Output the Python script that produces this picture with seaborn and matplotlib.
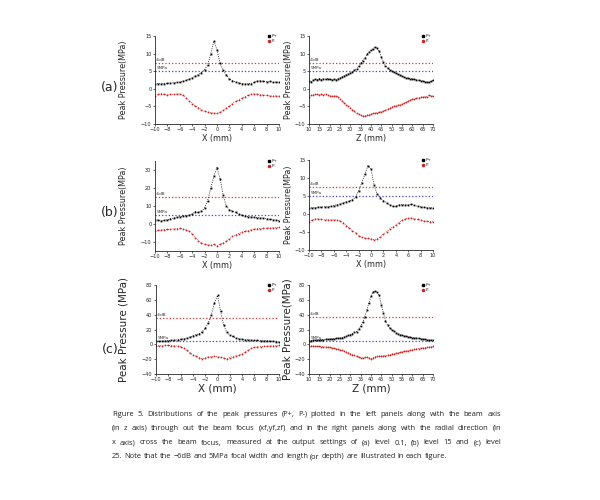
import numpy as np
import matplotlib
matplotlib.use("Agg")
import matplotlib.pyplot as plt
import seaborn as sns
from matplotlib.lines import Line2D

sns.set_style("ticks")
plt.rcParams['font.family'] = ['DejaVu Sans']

# sample positions (mm)
x_mm = np.arange(-10, 10.5, 0.5)
z_mm = np.arange(10, 71, 1)

# (a) level 0.1
a_x_pos = [1.3,1.5,1.5,1.5,1.6,1.6,1.7,1.8,1.9,2.1,2.4,2.8,3.1,3.6,4.0,4.6,5.4,6.8,10.0,13.6,11.0,
           7.3,5.3,3.8,2.9,2.3,1.9,1.7,1.5,1.4,1.4,1.5,1.8,2.2,2.3,2.1,2.0,2.1,1.8,1.9,1.8]
a_x_neg = [-2.1,-1.6,-1.4,-1.6,-1.7,-1.6,-1.6,-1.5,-1.4,-1.8,-2.6,-3.4,-4.2,-4.8,-5.4,-5.9,-6.4,-6.6,-6.8,-6.9,-7.0,
           -6.6,-6.1,-5.5,-4.9,-4.2,-3.6,-3.1,-2.6,-2.2,-1.9,-1.6,-1.4,-1.5,-1.7,-1.8,-1.9,-2.0,-2.1,-2.0,-2.1]
a_z_pos = [2.2,2.0,2.5,2.7,2.6,2.9,2.6,2.8,2.7,2.9,2.7,2.6,2.7,2.6,2.9,3.1,3.4,3.7,4.0,4.2,
           4.5,4.8,5.2,5.7,6.4,7.2,8.0,8.8,9.8,10.4,11.0,11.4,11.9,11.5,10.6,9.0,7.5,6.5,5.9,5.4,
           5.0,4.7,4.4,4.1,3.8,3.6,3.3,3.1,3.0,2.9,2.8,2.7,2.6,2.4,2.3,2.2,2.0,1.9,1.8,2.1,2.4]
a_z_neg = [-2.2,-1.9,-1.7,-1.6,-1.6,-1.7,-1.6,-1.7,-1.6,-1.8,-2.0,-2.0,-2.1,-2.0,-2.3,-2.8,-3.4,-4.0,-4.5,-4.9,
           -5.4,-5.9,-6.4,-6.9,-7.3,-7.5,-7.7,-7.6,-7.5,-7.4,-7.2,-7.0,-6.9,-6.8,-6.6,-6.5,-6.3,-6.1,-5.8,-5.5,
           -5.3,-5.0,-4.8,-4.6,-4.5,-4.3,-4.0,-3.8,-3.5,-3.2,-3.0,-2.8,-2.7,-2.5,-2.4,-2.3,-2.2,-2.2,-1.9,-2.0,-2.1]

# (b) level 15
b_l_pos = [2.4,2.1,1.9,2.0,2.4,2.9,3.3,3.7,4.1,4.4,4.7,5.0,5.4,6.9,6.4,7.0,9.0,13.0,20.0,26.5,31.3,
           25.0,16.0,10.0,8.0,7.0,6.5,5.5,4.8,4.4,4.1,3.9,3.7,3.5,3.4,3.2,2.9,2.6,2.4,2.2,1.9]
b_l_neg = [-3.8,-3.5,-3.3,-3.1,-3.0,-2.9,-2.8,-2.6,-2.4,-2.8,-3.2,-4.0,-5.3,-7.5,-9.4,-10.5,-11.3,-11.6,-11.8,-11.3,-12.2,
           -11.2,-10.5,-9.6,-8.5,-6.9,-6.0,-5.3,-4.7,-4.1,-3.7,-3.2,-2.8,-2.6,-2.5,-2.4,-2.3,-2.2,-2.1,-2.0,-1.9]
b_r_pos = [1.7,1.7,1.8,1.9,1.9,2.0,2.0,2.1,2.3,2.6,2.8,3.1,3.4,3.6,4.0,4.6,6.4,8.6,11.0,13.4,12.5,
           8.0,5.5,4.5,3.7,3.1,2.6,2.2,2.1,2.5,2.6,2.5,2.5,2.8,2.4,2.1,2.0,1.9,1.8,1.7,1.7]
b_r_neg = [-2.1,-1.7,-1.4,-1.3,-1.5,-1.6,-1.6,-1.6,-1.6,-1.7,-1.9,-2.4,-3.2,-3.9,-4.6,-5.3,-6.1,-6.5,-6.7,-6.8,-6.9,
           -7.1,-6.9,-6.3,-5.6,-4.9,-4.2,-3.6,-3.0,-2.4,-1.8,-1.4,-1.2,-1.1,-1.3,-1.5,-1.7,-1.9,-2.0,-2.1,-2.1]

# (c) level 25
c_x_pos = [3.9,4.2,4.4,4.7,4.9,5.2,5.6,6.2,6.8,7.5,8.4,10.0,11.6,13.0,14.2,17.0,21.8,29.0,40.0,56.0,66.0,
           45.0,26.0,16.0,12.8,10.6,8.6,7.6,6.9,6.3,5.9,5.6,5.3,5.2,5.0,4.9,4.8,4.5,4.0,3.5,3.0]
c_x_neg = [-2.0,-1.8,-1.6,-1.5,-1.5,-1.6,-1.8,-2.2,-3.0,-5.5,-8.0,-11.8,-14.0,-16.0,-18.0,-19.4,-18.2,-17.0,-16.5,-16.3,-16.6,
           -17.6,-18.5,-19.4,-18.0,-16.5,-15.3,-14.5,-13.0,-10.5,-8.0,-5.5,-4.0,-3.4,-3.0,-2.8,-2.5,-2.3,-2.0,-1.8,-1.5]
c_z_pos = [4.8,5.0,5.2,5.5,5.8,6.1,6.3,6.5,6.7,6.9,7.0,7.3,7.6,7.9,8.2,8.4,9.0,9.7,10.6,12.0,
           13.2,14.6,16.0,17.3,20.5,24.5,30.0,37.4,46.0,56.0,65.0,70.5,72.0,70.0,66.0,53.0,42.0,32.0,26.0,22.0,
           19.6,17.8,15.8,14.3,13.2,12.3,11.5,10.8,10.2,9.7,9.2,8.8,8.4,8.0,7.5,7.1,6.6,6.1,5.8,5.5,5.2]
c_z_neg = [-2.0,-2.1,-2.2,-2.4,-2.6,-2.8,-3.0,-3.2,-3.5,-3.8,-4.2,-4.7,-5.2,-5.8,-6.5,-7.3,-8.2,-9.3,-10.4,-11.5,
           -12.7,-13.8,-15.0,-16.2,-17.3,-17.8,-17.9,-17.7,-17.6,-18.5,-19.4,-18.2,-16.8,-16.3,-16.0,-15.7,-15.4,-15.1,-14.6,-14.0,
           -13.3,-12.6,-12.0,-11.4,-10.8,-10.2,-9.6,-9.0,-8.4,-7.9,-7.3,-6.8,-6.2,-5.7,-5.2,-4.8,-4.4,-4.1,-3.8,-3.3,-2.8]

# -6dB levels for each panel
db6_levels = [7.3, 7.3, 15, 7.5, 36, 36.5]
mpa5_level = 5

caption = [
    "Figure 5. Distributions of the peak pressures (P+, P-) plotted in the left panels along with the beam axis",
    "(in z axis) through out the beam focus (xf,yf,zf) and in the right panels along with the radial direction (in",
    "x axis) cross the beam focus, measured at the output settings of (a) level 0.1, (b) level 15 and (c) level",
    "25. Note that the \u22126dB and 5MPa focal width and length (or depth) are illustrated in each figure.",
]

panels = [
    # pos, x, pos data, neg data, xlabel, ylabel, ylim, yticks, big
    ([0.2583, 0.752, 0.2067, 0.176], x_mm, a_x_pos, a_x_neg, "X (mm)", "Peak Pressure(MPa)", (-10, 15), range(-10, 16, 5), False),
    ([0.515, 0.752, 0.2067, 0.176], z_mm, a_z_pos, a_z_neg, "Z (mm)", "Peak Pressure(MPa)", (-10, 15), range(-10, 16, 5), False),
    ([0.2583, 0.498, 0.2067, 0.18], x_mm, b_l_pos, b_l_neg, "X (mm)", "Peak Pressure(MPa)", (-15, 35), range(-10, 31, 10), False),
    ([0.515, 0.50, 0.2067, 0.18], x_mm, b_r_pos, b_r_neg, "X (mm)", "Peak Pressure(MPa)", (-10, 15), range(-10, 16, 5), False),
    ([0.26, 0.252, 0.205, 0.178], x_mm, c_x_pos, c_x_neg, "X (mm)", "Peak Pressure (MPa)", (-40, 80), range(-40, 81, 20), True),
    ([0.515, 0.252, 0.2067, 0.178], z_mm, c_z_pos, c_z_neg, "Z (mm)", "Peak Pressure(MPa)", (-40, 80), range(-40, 81, 20), True),
]

fig = plt.figure(figsize=(6, 5), dpi=100)
fig.patch.set_facecolor("white")

for i, (pos, xs, yp, yn, xlab, ylab, ylim, yt, big) in enumerate(panels):
    ax = fig.add_axes(pos)
    ax.set_facecolor("white")
    xlim = (xs[0], xs[-1])
    ax.axhline(db6_levels[i], color="#e03030", ls=":", lw=0.9)
    ax.axhline(mpa5_level, color="#4040d0", ls=":", lw=0.9)
    sns.lineplot(x=xs, y=yp, ax=ax, color="black", marker="s", markersize=1.3,
                 markeredgewidth=0, linestyle=":", linewidth=0.6)
    sns.lineplot(x=xs, y=yn, ax=ax, color="#d02020", marker="o", markersize=1.3,
                 markeredgewidth=0, linestyle=":", linewidth=0.6)
    ax.set_xlim(xlim)
    ax.set_ylim(ylim)
    ax.set_yticks(list(yt))
    if xs is x_mm:
        ax.set_xticks(range(-10, 11, 2))
    else:
        ax.set_xticks(range(10, 71, 5))
    ax.tick_params(labelsize=3.6, length=1.5, width=0.5, pad=1)
    sns.despine(ax=ax)
    for s in ["left", "bottom"]:
        ax.spines[s].set_linewidth(0.6)
    span = ylim[1] - ylim[0]
    ax.text(xlim[0] + 0.01 * (xlim[1] - xlim[0]), db6_levels[i] + 0.02 * span, "-6dB", fontsize=3, color="#333333")
    ax.text(xlim[0] + 0.01 * (xlim[1] - xlim[0]), mpa5_level + 0.02 * span, "5MPa", fontsize=3, color="#333333")
    fs = 7.5 if big else 5.8
    ax.set_xlabel(xlab, fontsize=fs, labelpad=1)
    ax.set_ylabel(ylab, fontsize=fs, labelpad=1)
    ax.yaxis.set_label_coords(-0.22 if i % 2 == 0 else -0.13, 0.5)
    handles = [Line2D([], [], color="black", marker="s", ls="none", markersize=1.5),
               Line2D([], [], color="#d02020", marker="o", ls="none", markersize=1.5)]
    ax.legend(handles, ["P+", "P-"], fontsize=3, frameon=False, loc="upper right",
              bbox_to_anchor=(1.02, 1.06), handletextpad=0.2, labelspacing=0.2, handlelength=0.8)

for lab, y in [("(a)", 88), ("(b)", 213), ("(c)", 349)]:
    fig.text(110 / 600, 1 - y / 500, lab, fontsize=9, ha="center", va="center")

# justified caption, sized so the last (unjustified) line ends where the reference does
fig.canvas.draw()
renderer = fig.canvas.get_renderer()
left_px, right_px, last_end = 112, 501, 450
line_y = [414, 428, 443, 457]
probe = fig.text(0, 0, caption[-1], fontsize=6, family="Open Sans")
cap_fs = 6 * (last_end - left_px) / probe.get_window_extent(renderer).width
probe.remove()
sp1 = fig.text(0, 0, "a a", fontsize=cap_fs, family="Open Sans")
sp2 = fig.text(0, 0, "aa", fontsize=cap_fs, family="Open Sans")
space = sp1.get_window_extent(renderer).width - sp2.get_window_extent(renderer).width
sp1.remove()
sp2.remove()
for k, line in enumerate(caption):
    words = line.split(" ")
    texts = [fig.text(0, 0, w, fontsize=cap_fs, family="Open Sans", color="#222222", va="center") for w in words]
    widths = [t.get_window_extent(renderer).width for t in texts]
    if k < len(caption) - 1:
        gap = (right_px - left_px - sum(widths)) / (len(words) - 1)
    else:
        gap = space
    x = left_px
    for t, w in zip(texts, widths):
        t.set_position((x / 600, 1 - line_y[k] / 500))
        x += w + gap

fig.savefig("out.png", dpi=100, facecolor="white")
